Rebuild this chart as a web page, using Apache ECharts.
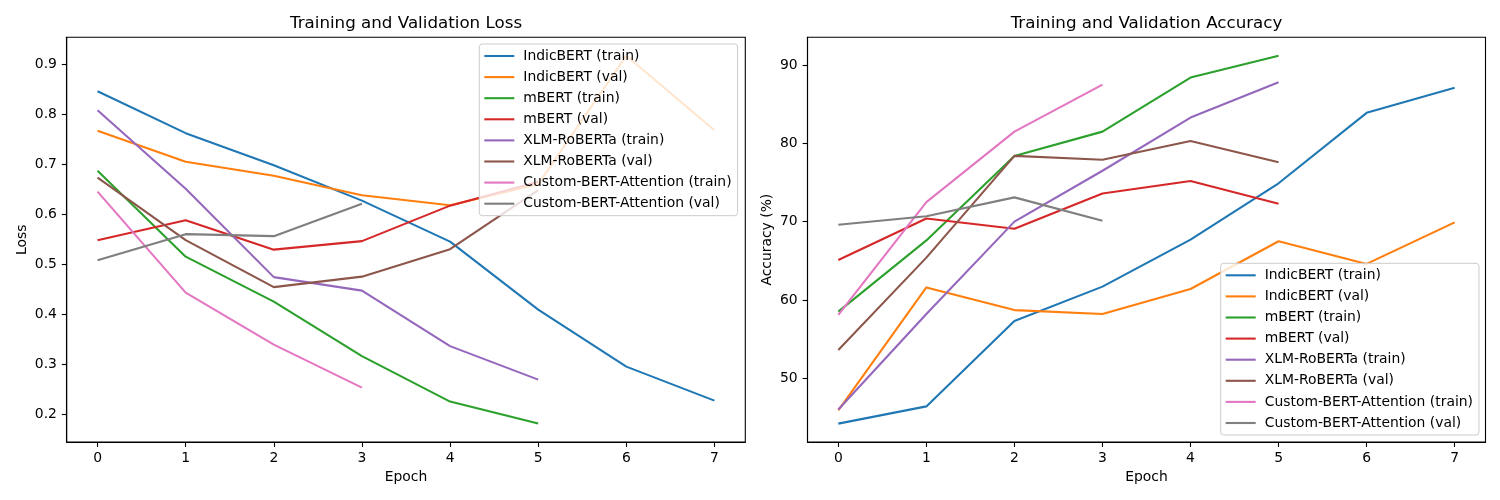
<!DOCTYPE html>
<html>
<head>
<meta charset="utf-8">
<script src="https://cdn.jsdelivr.net/npm/echarts@6/dist/echarts.min.js"></script>
<style>
html,body{margin:0;padding:0;background:#fff;}
#chart{width:1500px;height:500px;}
</style>
</head>
<body>
<div id="chart"></div>
<script>
// ---- data ----
const seriesNames = [
  'IndicBERT (train)', 'IndicBERT (val)', 'mBERT (train)', 'mBERT (val)',
  'XLM-RoBERTa (train)', 'XLM-RoBERTa (val)', 'Custom-BERT-Attention (train)', 'Custom-BERT-Attention (val)'
];
const epochTicks = [0, 1, 2, 3, 4, 5, 6, 7];

const indicTrainLoss = [0.846, 0.762, 0.698, 0.627, 0.545, 0.409, 0.295, 0.227];
const indicValLoss = [0.767, 0.705, 0.677, 0.638, 0.618, 0.660, 0.917, 0.768];
const mbertTrainLoss = [0.687, 0.515, 0.425, 0.316, 0.225, 0.181];
const mbertValLoss = [0.548, 0.588, 0.529, 0.546, 0.617, 0.665];
const xlmTrainLoss = [0.808, 0.651, 0.474, 0.447, 0.336, 0.269];
const xlmValLoss = [0.673, 0.548, 0.454, 0.475, 0.530, 0.648];
const customTrainLoss = [0.645, 0.443, 0.339, 0.253];
const customValLoss = [0.508, 0.560, 0.556, 0.621];

const indicTrainAcc = [44.2, 46.4, 57.3, 61.7, 67.7, 74.9, 83.9, 87.1];
const indicValAcc = [45.9, 61.6, 58.7, 58.2, 61.4, 67.5, 64.6, 69.9];
const mbertTrainAcc = [58.5, 67.6, 78.4, 81.5, 88.4, 91.2];
const mbertValAcc = [65.1, 70.4, 69.1, 73.6, 75.2, 72.3];
const xlmTrainAcc = [46.0, 58.2, 70.0, 76.5, 83.3, 87.8];
const xlmValAcc = [53.6, 65.4, 78.4, 77.9, 80.3, 77.6];
const customTrainAcc = [58.1, 72.5, 81.5, 87.5];
const customValAcc = [69.6, 70.7, 73.1, 70.1];

const lossTickValues = [0.2, 0.3, 0.4, 0.5, 0.6, 0.7, 0.8, 0.9];
const accTickValues = [50, 60, 70, 80, 90];

// ---- styling ----
const colors = ['#1f77b4', '#ff7f0e', '#2ca02c', '#d62728', '#9467bd', '#8c564b', '#e377c2', '#7f7f7f'];
const FONT = 'DejaVu Sans';
const FS = 13.9;

const lossSets = [indicTrainLoss, indicValLoss, mbertTrainLoss, mbertValLoss, xlmTrainLoss, xlmValLoss, customTrainLoss, customValLoss];
const accSets = [indicTrainAcc, indicValAcc, mbertTrainAcc, mbertValAcc, xlmTrainAcc, xlmValAcc, customTrainAcc, customValAcc];

// matplotlib-style 5% margins
function extentWithMargin(sets) {
  const all = [].concat.apply([], sets);
  const lo = Math.min.apply(null, all), hi = Math.max.apply(null, all);
  const m = (hi - lo) * 0.05;
  return [lo - m, hi + m];
}
const xExt = (function () { const m = (epochTicks[epochTicks.length - 1] - epochTicks[0]) * 0.05; return [epochTicks[0] - m, epochTicks[epochTicks.length - 1] + m]; })();
const lossExt = extentWithMargin(lossSets);
const accExt = extentWithMargin(accSets);

const FRAME_TOP = 37.3, FRAME_BOT = 442;
const frames = [{ l: 66.7, r: 745.3 }, { l: 807.5, r: 1485.5 }];

function grid(f) {
  return { left: f.l, top: FRAME_TOP, width: f.r - f.l, height: FRAME_BOT - FRAME_TOP,
    show: true, borderColor: '#000', borderWidth: 1.1, backgroundColor: 'transparent', containLabel: false };
}
const labelStyle = { color: '#000', fontFamily: FONT, fontSize: FS };
const lineStyleAxis = { show: true, onZero: false, lineStyle: { color: '#000', width: 1.1 } };

function xAxis(gi) {
  return {
    type: 'value', gridIndex: gi, min: xExt[0], max: xExt[1],
    axisLine: lineStyleAxis,
    axisTick: { show: true, length: 4.9, inside: false, customValues: epochTicks, lineStyle: { color: '#000', width: 1.1 } },
    splitLine: { show: false },
    axisLabel: Object.assign({ margin: 9.8, customValues: epochTicks, formatter: v => String(Math.round(v)) }, labelStyle),
    name: 'Epoch', nameLocation: 'middle', nameGap: 27,
    nameTextStyle: labelStyle
  };
}
function yAxis(gi, ext, ticks, fmt, name, gap) {
  return {
    type: 'value', gridIndex: gi, min: ext[0], max: ext[1],
    axisLine: lineStyleAxis,
    axisTick: { show: true, length: 4.9, inside: false, customValues: ticks, lineStyle: { color: '#000', width: 1.1 } },
    splitLine: { show: false },
    axisLabel: Object.assign({ margin: 9.8, customValues: ticks, formatter: fmt }, labelStyle),
    name: name, nameLocation: 'middle', nameGap: gap,
    nameTextStyle: labelStyle
  };
}

function buildSeries(sets, idx) {
  return sets.map((vals, i) => ({
    name: seriesNames[i], type: 'line', xAxisIndex: idx, yAxisIndex: idx,
    data: vals.map((v, k) => [epochTicks[k], v]),
    showSymbol: false, symbol: 'none', clip: false, smooth: false,
    lineStyle: { color: colors[i], width: 2.08, cap: 'butt', join: 'round' },
    itemStyle: { color: colors[i] },
    emphasis: { disabled: true }, silent: true, z: 2
  }));
}
function legend(left, top) {
  return {
    show: true, orient: 'vertical', left: left, top: top,
    data: seriesNames, selectedMode: false,
    icon: 'rect', itemWidth: 30, itemHeight: 2.1, itemGap: 5.1,
    padding: [4, 6, 4, 5],
    backgroundColor: 'rgba(255,255,255,0.8)', borderColor: '#cccccc', borderWidth: 1, borderRadius: 3,
    textStyle: { color: '#000', fontFamily: FONT, fontSize: FS, lineHeight: 16, padding: [0, 0, 0, 4] },
    z: 10
  };
}
function title(text, f) {
  return { text: text, left: (f.l + f.r) / 2, top: 13.5, textAlign: 'center', padding: 0,
    textStyle: { color: '#000', fontFamily: FONT, fontSize: 16.7, fontWeight: 'normal', lineHeight: 20 } };
}

const option = {
  animation: false,
  backgroundColor: '#fff',
  textStyle: { fontFamily: FONT },
  title: [title('Training and Validation Loss', frames[0]), title('Training and Validation Accuracy', frames[1])],
  grid: [grid(frames[0]), grid(frames[1])],
  xAxis: [xAxis(0), xAxis(1)],
  yAxis: [
    yAxis(0, lossExt, lossTickValues, v => v.toFixed(1), 'Loss', 37),
    yAxis(1, accExt, accTickValues, v => String(Math.round(v)), 'Accuracy (%)', 33.5)
  ],
  legend: [legend(479.3, 44), legend(1220.7, 263.3)],
  series: buildSeries(lossSets, 0).concat(buildSeries(accSets, 1))
};

const chart = echarts.init(document.getElementById('chart'), null, { renderer: 'canvas', width: 1500, height: 500 });
chart.setOption(option);
</script>
</body>
</html>
